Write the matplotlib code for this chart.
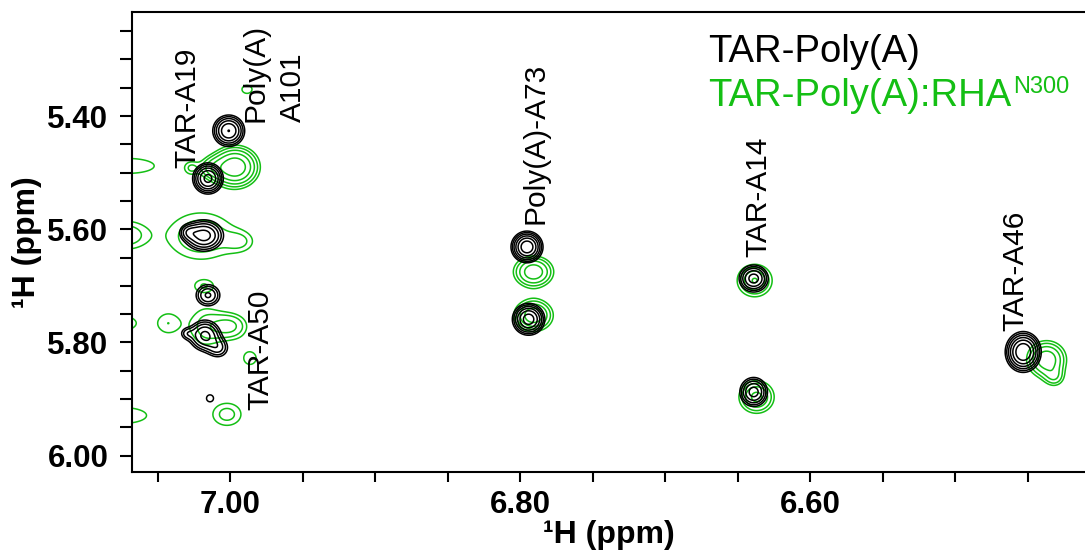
import numpy as np
import matplotlib
matplotlib.use("Agg")
import matplotlib.pyplot as plt
from matplotlib.ticker import MultipleLocator, FixedLocator

plt.rcParams['font.family'] = ['Liberation Sans', 'DejaVu Sans']

# peak lists: x ppm, y ppm, x width, y width (ppm), height (in units of lowest contour)
black_x = [7.0009, 7.0152, 7.0180, 7.0290, 7.0152, 7.0173, 7.0080, 7.0300, 7.0138,
           6.7952, 6.7941, 6.6389, 6.6389, 6.4530]
black_y = [5.4260, 5.5102, 5.6110, 5.6050, 5.7165, 5.7876, 5.8100, 5.7840, 5.8987,
           5.6312, 5.7590, 5.6870, 5.8875, 5.8168]
black_sx = [0.0060, 0.0056, 0.0078, 0.0040, 0.0056, 0.0064, 0.0050, 0.0035, 0.0055,
            0.0056, 0.0058, 0.0058, 0.0055, 0.0062]
black_sy = [0.0152, 0.0146, 0.0160, 0.0090, 0.0128, 0.0160, 0.0120, 0.0080, 0.0140,
            0.0142, 0.0146, 0.0138, 0.0148, 0.0180]
black_h = [5.4, 6.0, 4.5, 1.6, 2.9, 4.2, 2.0, 1.3, 1.1,
           7.0, 6.5, 4.5, 4.5, 7.5]

green_x = [6.9965, 7.0130, 7.0270, 6.9883, 7.0704, 7.0720, 7.0740, 7.0740,
           7.0200, 6.9920, 7.0179, 6.9993, 7.0173, 7.0430, 6.9862, 7.0021,
           6.7907, 6.7907, 6.6382, 6.6369, 6.4369, 6.4313]
green_y = [5.4900, 5.4920, 5.4920, 5.3528, 5.4880, 5.6104, 5.7660, 5.9290,
           5.6120, 5.6220, 5.7000, 5.7714, 5.7720, 5.7660, 5.8280, 5.9270,
           5.6753, 5.7520, 5.6906, 5.8963, 5.8300, 5.8630]
green_sx = [0.0097, 0.0062, 0.0041, 0.0065, 0.0220, 0.0120, 0.0100, 0.0200,
            0.0195, 0.0080, 0.0069, 0.0090, 0.0095, 0.0078, 0.0069, 0.0099,
            0.0088, 0.0086, 0.0084, 0.0082, 0.0087, 0.0050]
green_sy = [0.0216, 0.0140, 0.0106, 0.0133, 0.0160, 0.0216, 0.0140, 0.0170,
            0.0360, 0.0150, 0.0110, 0.0177, 0.0320, 0.0200, 0.0177, 0.0200,
            0.0178, 0.0182, 0.0200, 0.0195, 0.0210, 0.0120]
green_h = [5.0, 1.5, 1.2, 1.15, 1.4, 1.8, 1.5, 1.4,
           1.9, 1.0, 1.25, 2.0, 1.5, 1.35, 1.2, 1.6,
           3.5, 3.5, 2.8, 3.0, 3.5, 1.3]

# assignments: text, x ppm, y ppm (bottom of rotated text)
label_text = ["TAR-A19", "Poly(A)\nA101", "TAR-A50", "Poly(A)-A73", "TAR-A14", "TAR-A46"]
label_x = [7.0297, 6.9696, 6.9790, 6.7895, 6.6359, 6.4587]
label_y = [5.492, 5.4106, 5.920, 5.591, 5.6493, 5.780]

x_ticklabels = [7.00, 6.80, 6.60]
y_ticklabels = [5.40, 5.60, 5.80, 6.00]

GREEN = '#14bf14'


def spectrum(px, py, sx, sy, h, X, Y):
    Z = np.zeros_like(X)
    for x0, y0, a, b, amp in zip(px, py, sx, sy, h):
        Z += amp * np.exp(-((X - x0) ** 2) / (2 * a ** 2) - ((Y - y0) ** 2) / (2 * b ** 2))
    return Z


xs = np.linspace(6.38, 7.12, 1600)
ys = np.linspace(5.18, 6.08, 1000)
X, Y = np.meshgrid(xs, ys)
levels = 1.4 ** np.arange(0, 9)

fig = plt.figure(figsize=(10.85, 5.5), dpi=100)
ax = fig.add_axes([132 / 1085, 1 - 471.5 / 550, 1 - 132 / 1085, (471.5 - 12.3) / 550])

Zg = spectrum(green_x, green_y, green_sx, green_sy, green_h, X, Y)
Zb = spectrum(black_x, black_y, black_sx, black_sy, black_h, X, Y)
ax.contour(X, Y, Zg, levels=levels, colors=GREEN, linewidths=1.1)
ax.contour(X, Y, Zb, levels=levels, colors='black', linewidths=1.1)

ax.set_xlim(7.0676, 6.4104)
ax.set_ylim(6.028, 5.2166)

for t, x, y in zip(label_text, label_x, label_y):
    ax.text(x, y, t, rotation=90, ha='center', va='bottom', fontsize=21.5,
            multialignment='left', linespacing=1.4)

ax.xaxis.set_major_locator(FixedLocator(x_ticklabels))
ax.yaxis.set_major_locator(FixedLocator(y_ticklabels))
ax.xaxis.set_minor_locator(MultipleLocator(0.05))
ax.yaxis.set_minor_locator(MultipleLocator(0.05))
ax.set_xticklabels([f"{v:.2f}" for v in x_ticklabels], fontweight='bold', fontsize=22.5)
ax.set_yticklabels([f"{v:.2f}" for v in y_ticklabels], fontweight='bold', fontsize=22.5)
ax.tick_params(which='both', direction='out', width=1.5, length=7)
ax.tick_params(axis='y', which='both', length=9, pad=8)
ax.tick_params(axis='x', which='both', pad=6)

ax.spines['right'].set_visible(False)
for s in ['left', 'top', 'bottom']:
    ax.spines[s].set_linewidth(1.5)

ax.set_xlabel("¹H (ppm)", fontweight='bold', fontsize=23, labelpad=0)
ax.set_ylabel("¹H (ppm)", fontweight='bold', fontsize=23, labelpad=4)

fig.text(708 / 1085, 1 - 62 / 550, "TAR-Poly(A)", fontsize=27.5, color='black',
         ha='left', va='baseline')
gt = fig.text(708 / 1085, 1 - 105.5 / 550, "TAR-Poly(A):RHA", fontsize=27.5, color=GREEN,
              ha='left', va='baseline')
ax.annotate("N300", xy=(1, 1), xycoords=gt, xytext=(1, 1), textcoords='offset points',
            fontsize=17, color=GREEN, ha='left', va='top')

fig.savefig("out.png", dpi=100)
